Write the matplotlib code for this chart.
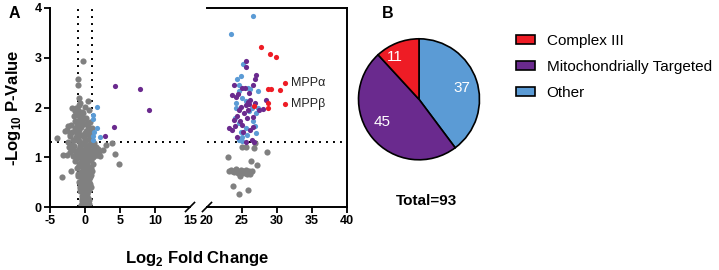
import matplotlib
matplotlib.use("Agg")
import matplotlib.pyplot as plt
from matplotlib.patches import Patch

plt.rcParams['font.family'] = ['Liberation Sans', 'DejaVu Sans']
plt.rcParams['mathtext.fontset'] = 'custom'
plt.rcParams['mathtext.rm'] = 'Liberation Sans'
plt.rcParams['mathtext.bf'] = 'Liberation Sans:bold'
plt.rcParams['axes.unicode_minus'] = False

# ---- data ----
gray_left_x = [
    -0.3, 0.0, 0.2, -0.1, 0.3, -0.5, 0.1, -0.2, 0.4, -0.4, 0.0, 0.25, -0.15, 0.5, -0.6, 0.6,
    -0.05, 0.15, -0.25, 0.35, -0.35, 0.05, 0.45, -0.45,
    -0.7, 0.6, 0.1, -0.4, 0.35, -0.05, 0.7, -0.8, 0.2, -0.3, 0.5, -0.55, 0.0, 0.3, -0.2, 0.85,
    -0.65, 0.55, -0.1, 0.15, 0.4, -0.45, 0.75, -0.75,
    -1.0, 0.8, -0.1, 0.4, -0.6, 1.0, 0.15, -0.35, 0.65, -0.85, -2.0, 0.0, 0.3, -0.5, 1.2, -1.2, -3.3,
    -0.25, 0.55, -0.7, 0.9, 0.1, -0.95, 0.25, -0.4,
    -1.4, 0.9, -0.2, 0.5, -0.8, 1.5, -3.1, -2.6, 0.1, -1.1, 0.75, -0.45, 1.8, -1.8, 0.3, -0.1, 1.1, -0.6, 2.5, 2.2,
    -0.9, 0.6, -0.3, 0.2, -1.3, 1.3, -0.7, 0.0,
    -1.6, 0.6, -0.3, 1.3, -2.4, -0.9, 0.2, -4.0, -1.3, 0.8, -0.5, -2.2, 0.0, 3.9, 3.0, 4.35, 4.9, -1.9, 0.5, -0.1,
    -1.0, 0.9, -0.7, 0.3, 1.6, 2.0, -1.5, 0.7,
    -2.8, -1.2, 0.4, -0.6, -2.0, -0.2, 0.7, -1.5, -0.9, -2.6, 0.1, -0.4, -1.0, 0.3, -0.5, 1.0,
    -1.9, -1.0, -0.4, 0.6, -1.3, -0.8, 0.4, -0.9, 0.0, -1.5, -0.3, -1.1,
    -1.06, -0.25, -1.0, -0.7,
    -1.7, -2.1, -1.4, -1.1, -0.6, -1.8, -2.3, -1.2, -0.8, -1.6, -2.5, -1.0, -0.2, 0.4, 0.8, -0.5,
    -1.5, -0.7, 0.2, 0.6, -1.2, -0.3, 0.9, -0.9, 1.4, 1.7, -1.7, -2.2, 0.5, -0.1,
]
gray_left_y = [
    0.02, 0.03, 0.05, 0.08, 0.10, 0.12, 0.14, 0.17, 0.19, 0.22, 0.24, 0.27, 0.30, 0.06, 0.04, 0.15,
    0.12, 0.21, 0.05, 0.29, 0.28, 0.18, 0.09, 0.16,
    0.33, 0.35, 0.37, 0.40, 0.42, 0.45, 0.47, 0.50, 0.52, 0.55, 0.57, 0.60, 0.32, 0.58, 0.48, 0.40,
    0.43, 0.50, 0.56, 0.60, 0.36, 0.53, 0.60, 0.38,
    0.62, 0.64, 0.66, 0.68, 0.70, 0.72, 0.74, 0.77, 0.80, 0.82, 0.72, 0.85, 0.88, 0.90, 0.86, 0.78, 0.60,
    0.70, 0.75, 0.88, 0.78, 0.82, 0.66, 0.92, 0.95,
    0.92, 0.95, 0.97, 1.00, 1.02, 1.04, 1.05, 1.05, 1.07, 1.10, 1.12, 1.14, 1.16, 1.18, 1.20, 1.15, 1.00, 1.06, 1.15, 1.02,
    1.16, 1.08, 1.03, 1.12, 1.00, 1.18, 1.22, 1.24,
    1.22, 1.24, 1.26, 1.28, 1.30, 1.32, 1.34, 1.38, 1.40, 1.42, 1.44, 1.46, 1.48, 1.28, 1.25, 1.07, 0.86, 1.50, 1.36, 1.30,
    1.36, 1.30, 1.45, 1.46, 1.20, 1.10, 1.35, 1.52,
    1.52, 1.55, 1.57, 1.60, 1.64, 1.66, 1.70, 1.72, 1.75, 1.55, 1.78, 1.80, 1.62, 1.68, 1.72, 1.58,
    2.00, 1.85, 1.90, 1.95, 1.98, 2.05, 2.13, 2.20, 2.02, 1.92, 1.88, 1.95,
    2.57, 2.93, 2.45, 2.10,
    1.35, 1.42, 1.58, 1.66, 1.85, 1.25, 1.20, 1.48, 1.55, 1.82, 1.62, 1.95, 1.40, 1.62, 1.25, 1.70,
    1.12, 1.28, 1.52, 1.15, 0.98, 1.00, 1.05, 0.85, 1.10, 1.05, 1.02, 1.10, 0.95, 0.80,
]

blue_left_x = [1.7, 1.2, 1.1, 1.7, 1.3, 2.2, 1.1, 1.2]
blue_left_y = [2.02, 1.85, 1.76, 1.58, 1.50, 1.41, 1.42, 1.35]
purple_left_x = [4.25, 7.9, 9.2, 4.1, 2.8]
purple_left_y = [2.44, 2.37, 1.95, 1.61, 1.43]

gray_right_x = [
    25.05, 26.7, 26.8, 28.6, 23.0, 26.3, 27.1, 24.7, 26.1, 23.75, 25.85, 24.6,
    23.2, 23.6, 23.9, 24.2, 24.5, 24.8, 25.0, 25.2, 25.5, 25.8, 26.0, 26.2,
    24.4, 24.9, 25.4, 23.5, 25.7, 26.4, 25.5, 24.1,
]
gray_right_y = [
    1.20, 1.18, 1.28, 1.10, 1.00, 0.93, 0.85, 0.62, 0.66, 0.42, 0.34, 0.26,
    0.73, 0.72, 0.70, 0.74, 0.71, 0.73, 0.69, 0.72, 0.74, 0.70, 0.73, 0.71,
    0.68, 0.75, 0.69, 0.74, 0.67, 0.72, 1.21, 0.76,
]
blue_right_x = [26.5, 23.5, 25.2, 24.9, 24.3, 26.1, 24.6, 27.3, 25.5, 24.1, 27.3, 27.0, 26.0, 24.0, 24.6,
                25.5, 24.95, 24.6, 25.05, 27.0, 24.5, 25.9, 26.6, 24.2, 25.0, 26.4, 24.8, 25.7, 26.9]
blue_right_y = [3.84, 3.48, 2.88, 2.64, 2.57, 2.37, 2.33, 2.33, 2.13, 1.98, 1.98, 1.88, 1.92, 1.78, 1.68,
                1.59, 1.41, 1.35, 1.33, 1.48, 2.45, 2.40, 1.72, 2.10, 2.20, 2.00, 1.50, 1.45, 1.62]
purple_right_x = [25.5, 25.6, 27.0, 26.9, 23.9, 25.05, 25.4, 26.6, 23.6, 24.1, 24.4, 28.4, 28.0, 26.2,
                  24.8, 25.3, 24.3, 25.75, 26.5, 25.05, 23.1, 23.6, 26.2, 24.3, 26.4, 26.7, 26.5, 25.6,
                  26.0, 24.7, 25.9, 23.9, 26.8, 25.2, 24.0, 26.0, 25.8, 24.6, 27.4, 25.5]
purple_right_y = [2.93, 2.81, 2.65, 2.57, 2.45, 2.39, 2.40, 2.45, 2.25, 2.22, 2.28, 2.15, 1.96, 2.15,
                  2.02, 1.88, 1.82, 1.78, 1.80, 1.65, 1.58, 1.55, 1.55, 1.41, 1.35, 1.31, 1.61, 2.05,
                  2.08, 1.72, 1.95, 1.75, 2.10, 1.50, 1.62, 2.30, 2.12, 1.95, 1.95, 1.30]
red_x = [27.7, 28.95, 29.8, 28.75, 29.1, 30.4, 31.2, 31.2, 26.7, 28.7, 28.7]
red_y = [3.22, 3.08, 3.02, 2.37, 2.37, 2.35, 2.50, 2.07, 2.04, 2.10, 1.98]

left_ticks = [-5, 0, 5, 10, 15]
right_ticks = [20, 25, 30, 35, 40]
y_ticks = [0, 1, 2, 3, 4]

pie_labels = ['Other', 'Mitochondrially Targeted', 'Complex III']
pie_counts = [37, 45, 11]
legend_order = ['Complex III', 'Mitochondrially Targeted', 'Other']

GRAY = '#808080'
BLUE = '#5b9bd5'
PURPLE = '#6a2a8e'
RED = '#ee1c25'
colors = {'Other': BLUE, 'Mitochondrially Targeted': PURPLE, 'Complex III': RED}

W, H = 719, 270
fig = plt.figure(figsize=(W / 100, H / 100), dpi=100)

# panel A: broken x axis, two axes
ax1 = fig.add_axes([50 / W, (H - 207) / H, 140 / W, 199 / H])
ax2 = fig.add_axes([207 / W, (H - 207) / H, 140 / W, 199 / H], sharey=ax1)

gs, cs = 20, 14
ax1.scatter(gray_left_x, gray_left_y, s=gs, c=GRAY, lw=0, zorder=2)
ax1.scatter(blue_left_x, blue_left_y, s=cs, c=BLUE, lw=0, zorder=3)
ax1.scatter(purple_left_x, purple_left_y, s=cs, c=PURPLE, lw=0, zorder=3)
ax2.scatter(gray_right_x, gray_right_y, s=gs, c=GRAY, lw=0, zorder=2)
ax2.scatter(blue_right_x, blue_right_y, s=cs, c=BLUE, lw=0, zorder=3)
ax2.scatter(purple_right_x, purple_right_y, s=cs, c=PURPLE, lw=0, zorder=3)
ax2.scatter(red_x, red_y, s=cs, c=RED, lw=0, zorder=3)

dots = (0, (1, 2.6))
for a in (ax1, ax2):
    a.axhline(1.3, color='black', lw=1.4, ls=dots, zorder=1)
ax1.axvline(-1, color='black', lw=1.4, ls=dots, zorder=1)
ax1.axvline(1, color='black', lw=1.4, ls=dots, zorder=1)

ax2.text(32.0, 2.5, 'MPPα', fontsize=9, va='center', color='#222222')
ax2.text(32.0, 2.07, 'MPPβ', fontsize=9, va='center', color='#222222')

ax1.set_xlim(-5, 15)
ax2.set_xlim(20, 40)
ax1.set_ylim(0, 4)
ax1.set_xticks(left_ticks)
ax2.set_xticks(right_ticks)
ax1.set_yticks(y_ticks)

for a in (ax1, ax2):
    for sp in a.spines.values():
        sp.set_linewidth(1.4)
    a.tick_params(width=1.3, length=4, labelsize=9, pad=2)
    for lab in a.get_xticklabels() + a.get_yticklabels():
        lab.set_fontweight('bold')
ax1.spines['right'].set_visible(False)
ax1.spines['top'].set_visible(False)
ax2.spines['left'].set_visible(False)
ax2.tick_params(axis='y', left=False, labelleft=False)
ax1.xaxis.get_major_ticks()[-1].tick1line.set_visible(False)
ax2.xaxis.get_major_ticks()[0].tick1line.set_visible(False)

# break marks
dx, dy = 4.5 / 140, 4.5 / 199
ax1.plot([1 - dx, 1 + dx], [-dy, dy], transform=ax1.transAxes, color='black', lw=1.2, clip_on=False)
ax2.plot([-dx, dx], [-dy, dy], transform=ax2.transAxes, color='black', lw=1.2, clip_on=False)

ax1.set_ylabel(r'-Log$_{\mathbf{10}}$ P-Value', fontsize=12, fontweight='bold')
ax1.yaxis.set_label_coords(-0.19, 0.5)
fig.text(197 / W, 1 - 258 / H, r'Log$_{\mathbf{2}}$ Fold Change', fontsize=12,
         fontweight='bold', ha='center', va='center')
fig.text(14 / W, 1 - 14 / H, 'A', fontsize=11.5, fontweight='bold', ha='center', va='center')

# panel B: pie
r = 61.7
axp = fig.add_axes([(419 - r) / W, (H - 99.3 - r) / H, 2 * r / W, 2 * r / H])
wedges, texts = axp.pie(pie_counts, colors=[colors[k] for k in pie_labels], startangle=90,
                        counterclock=False, radius=1,
                        wedgeprops=dict(edgecolor='black', linewidth=1.2),
                        labels=[str(v) for v in pie_counts], labeldistance=0.6,
                        textprops=dict(color='white', fontsize=11))
# small slice label sits further out
tx, ty = texts[2].get_position()
texts[2].set_position((tx * 0.75 / 0.6, ty * 0.75 / 0.6))
axp.set_xlim(-1.02, 1.02)
axp.set_ylim(-1.02, 1.02)
axp.set_aspect('equal')

fig.text(388 / W, 1 - 14 / H, 'B', fontsize=11.5, fontweight='bold', ha='center', va='center')
fig.text(427 / W, 1 - 201 / H, 'Total=93', fontsize=11, fontweight='bold', ha='center', va='center')

handles = [Patch(facecolor=colors[k], edgecolor='black', linewidth=1.2, label=k) for k in legend_order]
fig.legend(handles=handles, loc='upper left', bbox_to_anchor=(516 / W, 1 - 34 / H), frameon=False,
           fontsize=11, handlelength=1.25, handleheight=0.6, handletextpad=0.75, labelspacing=0.78,
           borderaxespad=0, borderpad=0)

fig.savefig('out.png', dpi=100)
